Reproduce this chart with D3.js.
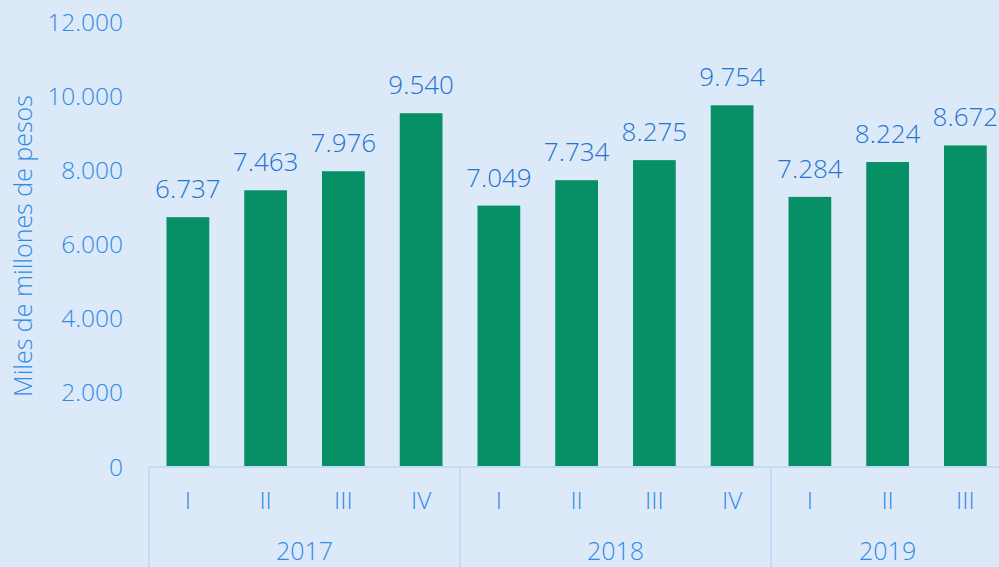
<!DOCTYPE html>
<html>
<head>
<meta charset="utf-8">
<script src="https://cdn.jsdelivr.net/npm/d3@7"></script>
<style>
  html, body { margin: 0; padding: 0; background: #dce9f9; }
  svg { display: block; }
</style>
</head>
<body>
<svg id="chart" width="999" height="567"></svg>
<script>
// data
const years = ["2017", "2018", "2019"];
const quarters = ["I", "II", "III", "IV", "I", "II", "III", "IV", "I", "II", "III"];
const quarterYear = ["2017", "2017", "2017", "2017", "2018", "2018", "2018", "2018", "2019", "2019", "2019"];
const values = [6737, 7463, 7976, 9540, 7049, 7734, 8275, 9754, 7284, 8224, 8672];
const yTicks = [0, 2000, 4000, 6000, 8000, 10000, 12000];

const width = 999, height = 567;
const left = 149, bandW = 77.75;
const y0 = 467, yTop = 22;

const svg = d3.select("#chart")
    .attr("font-family", "'Open Sans', 'Liberation Sans', Arial, sans-serif")
    .attr("font-weight", 300);

const keys = values.map((d, i) => i);
const x = d3.scaleBand()
    .domain(keys)
    .range([left, left + bandW * keys.length])
    .paddingInner(0.45)
    .paddingOuter(0.225);

const y = d3.scaleLinear()
    .domain([0, 12000])
    .range([y0, yTop]);

const fmt = d3.formatLocale({ decimal: ",", thousands: ".", grouping: [3], currency: ["", ""] }).format(",d");

// y tick labels
svg.append("g")
    .selectAll("text")
    .data(yTicks)
    .join("text")
    .attr("x", 123)
    .attr("y", d => y(d))
    .attr("dy", "0.35em")
    .attr("text-anchor", "end")
    .attr("fill", "#2f8be6")
    .attr("font-size", 24.5)
    .text(d => fmt(d));

// y title
svg.append("text")
    .attr("transform", `translate(32,${246}) rotate(-90)`)
    .attr("text-anchor", "middle")
    .attr("fill", "#2f8be6")
    .attr("font-size", 25)
    .text("Miles de millones de pesos");

// bars
svg.append("g")
    .selectAll("rect")
    .data(values)
    .join("rect")
    .attr("x", (d, i) => x(i))
    .attr("y", d => y(d))
    .attr("width", x.bandwidth())
    .attr("height", d => y0 - y(d))
    .attr("fill", "#079065");

// value labels
svg.append("g")
    .selectAll("text")
    .data(values)
    .join("text")
    .attr("x", (d, i) => x(i) + x.bandwidth() / 2)
    .attr("y", d => y(d) - 19)
    .attr("text-anchor", "middle")
    .attr("fill", "#2574d0")
    .attr("font-size", 26)
    .text(d => fmt(d));

// category axis
const axis = svg.append("g")
    .attr("stroke", "#c3dbf6")
    .attr("stroke-width", 2);

axis.append("line")
    .attr("x1", left).attr("x2", width)
    .attr("y1", y0).attr("y2", y0);

const yearStarts = years.map(yr => quarterYear.indexOf(yr));
axis.selectAll("line.sep")
    .data(yearStarts)
    .join("line")
    .attr("class", "sep")
    .attr("x1", i => left + bandW * i)
    .attr("x2", i => left + bandW * i)
    .attr("y1", y0).attr("y2", height);

svg.append("g")
    .selectAll("text")
    .data(quarters)
    .join("text")
    .attr("x", (d, i) => x(i) + x.bandwidth() / 2)
    .attr("y", 509)
    .attr("text-anchor", "middle")
    .attr("fill", "#2f8be6")
    .attr("font-size", 24.5)
    .text(d => d);

svg.append("g")
    .selectAll("text")
    .data(years)
    .join("text")
    .attr("x", yr => {
        const idx = keys.filter(i => quarterYear[i] === yr);
        return left + bandW * (idx[0] + idx[idx.length - 1] + 1) / 2;
    })
    .attr("y", 560)
    .attr("text-anchor", "middle")
    .attr("fill", "#2f8be6")
    .attr("font-size", 25)
    .text(d => d);
</script>
</body>
</html>
